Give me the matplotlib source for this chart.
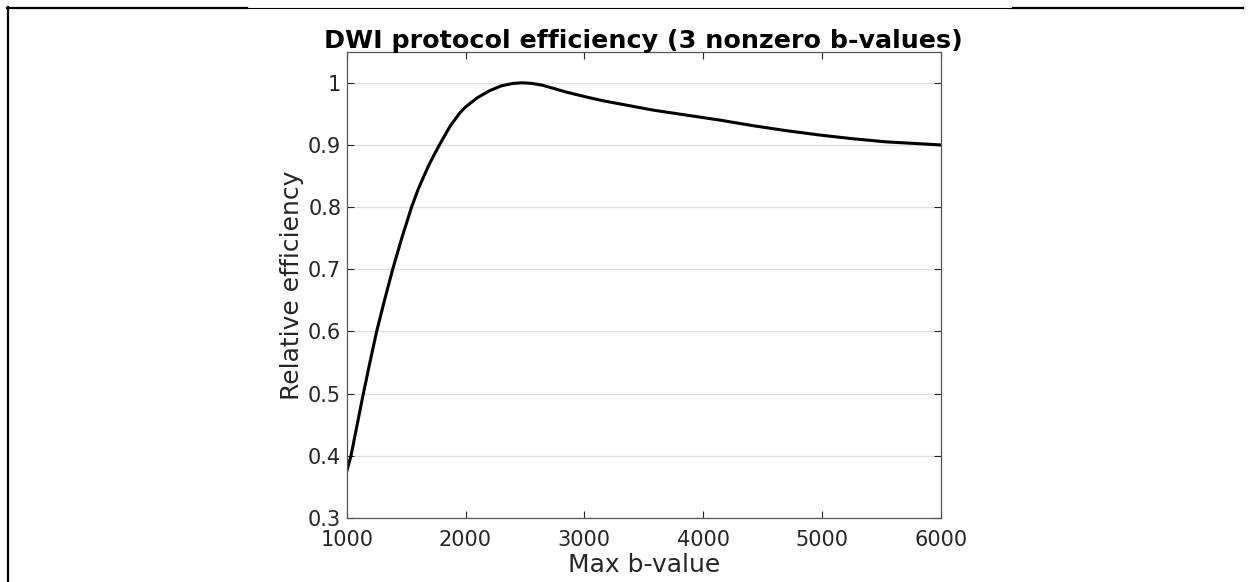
import numpy as np
import matplotlib
matplotlib.use("Agg")
import matplotlib.pyplot as plt
from matplotlib.lines import Line2D

# curve
bmax = [1000, 1036, 1088, 1140, 1195, 1252, 1318, 1387, 1465, 1546, 1600, 1650, 1700,
        1780, 1870, 1950, 2000, 2100, 2200, 2300, 2400, 2480, 2560, 2650, 2740, 2850,
        3020, 3160, 3300, 3440, 3580, 3720, 3860, 4000, 4140, 4420, 4700, 4980, 5260,
        5540, 5820, 6000]
eff = [0.375, 0.400, 0.450, 0.500, 0.550, 0.600, 0.650, 0.700, 0.751, 0.800, 0.828, 0.850, 0.871,
       0.900, 0.930, 0.951, 0.961, 0.976, 0.987, 0.995, 0.999, 1.000, 0.999, 0.996, 0.991, 0.985,
       0.977, 0.971, 0.966, 0.961, 0.956, 0.952, 0.948, 0.944, 0.940, 0.931, 0.923, 0.916, 0.910,
       0.905, 0.902, 0.900]

xticks = [1000, 2000, 3000, 4000, 5000, 6000]
yticks = [0.3, 0.4, 0.5, 0.6, 0.7, 0.8, 0.9, 1.0]
ylabels = ["0.3", "0.4", "0.5", "0.6", "0.7", "0.8", "0.9", "1"]

W, H = 1253, 582
fig = plt.figure(figsize=(W / 100, H / 100), dpi=100)
ax = fig.add_axes([346.7 / W, 1 - 518 / H, (940.7 - 346.7) / W, (518 - 51.7) / H])

ax.plot(bmax, eff, color="black", lw=2.2, solid_joinstyle="round")
ax.set_xlim(1000, 6000)
ax.set_ylim(0.3, 1.05)
ax.set_xticks(xticks)
ax.set_yticks(yticks)
ax.set_yticklabels(ylabels)
ax.yaxis.grid(True, color="#dedede", lw=0.9)
ax.set_axisbelow(True)

dark = "#262626"
for s in ax.spines.values():
    s.set_color("#555555")
    s.set_linewidth(0.9)
ax.tick_params(direction="in", length=5, width=0.8, color=dark, labelcolor=dark,
               labelsize=15, top=True, right=True)
ax.tick_params(axis="x", pad=9)
ax.tick_params(axis="y", pad=4)
ax.set_xlabel("Max b-value", fontsize=18, color=dark, labelpad=2)
ax.set_ylabel("Relative efficiency", fontsize=18, color=dark, labelpad=3)
ax.set_title("DWI protocol efficiency (3 nonzero b-values)", fontsize=18.3,
             fontweight="bold", pad=2.5)

# page border lines around the figure
def hline(x0, x1, y, lw):
    fig.add_artist(Line2D([x0 / W, x1 / W], [1 - y / H, 1 - y / H],
                          transform=fig.transFigure, color="black", lw=lw))

hline(7, 247, 7.5, 1.6)
hline(247, 1013, 7.5, 0.8)
hline(1013, 1243, 7.5, 1.6)
fig.add_artist(Line2D([7.8 / W, 7.8 / W], [1 - 7 / H, 0], transform=fig.transFigure,
                      color="black", lw=1.6))

fig.savefig("out.png", dpi=100)
